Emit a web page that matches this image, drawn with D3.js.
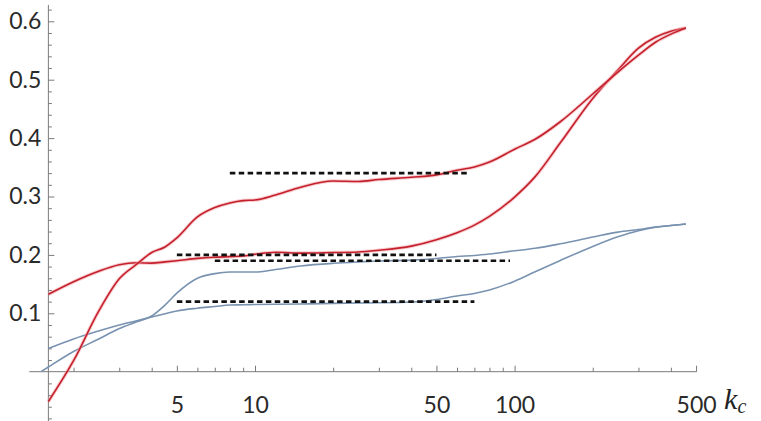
<!DOCTYPE html>
<html>
<head>
<meta charset="utf-8">
<script src="https://cdn.jsdelivr.net/npm/d3@7"></script>
<style>
  html, body { margin: 0; padding: 0; background: #fff; }
  svg { display: block; }
</style>
</head>
<body>
<svg id="chart" width="761" height="421"></svg>
<script>
// Cut-off momentum k_c (log axis) and the four response curves
const kGrid = [1.5, 1.6, 2, 2.5, 3, 3.5, 4, 4.5, 5, 6, 7, 8, 9, 10, 12, 15, 20, 25, 30, 40, 50, 60, 70, 80, 100, 120, 150, 200, 250, 300, 350, 400, 457];

const redLowPlateau = [null, 0.1325, 0.154, 0.172, 0.183, 0.1865, 0.186, 0.188, 0.190, 0.194, 0.196, 0.197, 0.198, 0.201, 0.2046, 0.203, 0.204, 0.205, 0.208, 0.215, 0.226, 0.238, 0.251, 0.266, 0.299, 0.334, 0.392, 0.468, 0.5166, 0.554, 0.573, 0.583, 0.5885];
const redHighPlateau = [null, -0.051, 0.0188, 0.1036, 0.159, 0.184, 0.204, 0.2135, 0.229, 0.265, 0.281, 0.289, 0.293, 0.294, 0.3026, 0.316, 0.3265, 0.3257, 0.329, 0.333, 0.337, 0.345, 0.3505, 0.359, 0.381, 0.398, 0.428, 0.4755, 0.513, 0.542, 0.5645, 0.578, 0.5885];
const blueLowPlateau = [null, 0.0397, 0.056, 0.0697, 0.080, 0.0873, 0.0937, 0.0993, 0.104, 0.1087, 0.1116, 0.1142, 0.1146, 0.115, 0.1154, 0.116, 0.117, 0.1176, 0.118, 0.1193, 0.1236, 0.1296, 0.134, 0.14, 0.155, 0.171, 0.1905, 0.2145, 0.231, 0.2415, 0.2475, 0.2503, 0.2529];
const blueHighPlateau = [0.0, 0.008, 0.0346, 0.056, 0.0738, 0.0854, 0.0954, 0.114, 0.1344, 0.160, 0.168, 0.1707, 0.1707, 0.1707, 0.175, 0.181, 0.1856, 0.188, 0.1896, 0.191, 0.1938, 0.1973, 0.199, 0.2015, 0.207, 0.2113, 0.219, 0.2305, 0.239, 0.2435, 0.2478, 0.2503, 0.2529];

// Plateau reference levels (dashed): level, k from, k to
const plateauLevels = [0.34, 0.2, 0.19, 0.12];
const plateauFrom = [8, 5, 7, 5];
const plateauTo = [66, 50, 96, 70];

// Axis ticks
const xMajorTicks = [5, 10, 50, 100, 500];
const xMinorTicks = [2, 3, 4, 6, 7, 8, 9, 20, 30, 40, 60, 70, 80, 90, 200, 300, 400];
const yMajorTicks = [0.1, 0.2, 0.3, 0.4, 0.5, 0.6];
const yMinorTicks = d3.range(-8, 32).map(i => +(i * 0.02).toFixed(2)).filter(v => Math.abs(v * 10 - Math.round(v * 10)) > 1e-6);

const svg = d3.select("#chart");

const x = d3.scaleLog().domain([10, 100]).range([255, 514.6]);
const y = d3.scaleLinear().domain([0, 0.6]).range([371.7, 21.3]);

const xAxisFrom = 1.35, xAxisTo = 503;
const yAxisAt = 1.6;
const yAxisTop = 0.628, yAxisBottom = -0.09;

const axisColor = "#7a7a7a";
const labelFont = "Lato, 'Open Sans', sans-serif";

// x axis (at y = 0)
const gx = svg.append("g").attr("transform", `translate(0,${y(0)})`);
gx.append("line")
  .attr("x1", x(xAxisFrom)).attr("x2", x(xAxisTo))
  .attr("stroke", axisColor).attr("stroke-width", 1);
gx.append("g")
  .call(d3.axisBottom(x).tickValues(xMajorTicks).tickFormat(d3.format("d")).tickSize(-6).tickPadding(25))
  .call(g => g.select(".domain").remove())
  .call(g => g.selectAll("line").attr("stroke", axisColor))
  .call(g => g.selectAll("text").attr("fill", "#2a2a2a").style("font-family", labelFont).style("font-size", "23px"));
gx.append("g")
  .call(d3.axisBottom(x).tickValues(xMinorTicks).tickFormat("").tickSize(-4))
  .call(g => g.select(".domain").remove())
  .call(g => g.selectAll("line").attr("stroke", axisColor));

// y axis
const gy = svg.append("g").attr("transform", `translate(${x(yAxisAt)},0)`);
gy.append("line")
  .attr("y1", y(yAxisTop)).attr("y2", y(yAxisBottom))
  .attr("stroke", axisColor).attr("stroke-width", 1);
gy.append("g")
  .call(d3.axisLeft(y).tickValues(yMajorTicks).tickFormat(d3.format(".1f")).tickSize(-6).tickPadding(7))
  .call(g => g.select(".domain").remove())
  .call(g => g.selectAll("line").attr("stroke", axisColor))
  .call(g => g.selectAll("text").attr("fill", "#2a2a2a").style("font-family", labelFont).style("font-size", "23px"));
gy.append("g")
  .call(d3.axisLeft(y).tickValues(yMinorTicks).tickFormat("").tickSize(-3.5))
  .call(g => g.select(".domain").remove())
  .call(g => g.selectAll("line").attr("stroke", axisColor));

// axis title k_c
const title = svg.append("text")
  .attr("x", x(500) + 28).attr("y", y(0) + 37)
  .style("font-family", "'Liberation Serif', 'DejaVu Serif', serif")
  .style("font-style", "italic")
  .attr("fill", "#222");
title.append("tspan").style("font-size", "30px").text("k");
title.append("tspan").style("font-size", "20px").attr("dy", 4).text("c");

// curves
const line = d3.line()
  .defined(d => d[1] !== null)
  .x(d => x(d[0]))
  .y(d => y(d[1]))
  .curve(d3.curveMonotoneX);

const series = [
  { values: blueLowPlateau, color: "#7892b0", halo: null },
  { values: blueHighPlateau, color: "#7892b0", halo: null },
  { values: redLowPlateau, color: "#c4202c", halo: "#f3a3a8" },
  { values: redHighPlateau, color: "#c4202c", halo: "#f3a3a8" }
];

series.forEach(s => {
  const pts = kGrid.map((k, i) => [k, s.values[i]]);
  if (s.halo) {
    svg.append("path")
      .attr("d", line(pts))
      .attr("fill", "none")
      .attr("stroke", s.halo)
      .attr("stroke-width", 3.6)
      .attr("stroke-opacity", 0.55);
  }
  svg.append("path")
    .attr("d", line(pts))
    .attr("fill", "none")
    .attr("stroke", s.color)
    .attr("stroke-width", 1.6);
});

// dashed plateau levels
plateauLevels.forEach((lv, i) => {
  svg.append("line")
    .attr("x1", x(plateauFrom[i])).attr("x2", x(plateauTo[i]))
    .attr("y1", y(lv)).attr("y2", y(lv))
    .attr("stroke", "#111")
    .attr("stroke-width", 2.6)
    .attr("stroke-dasharray", "5.5,3.4");
});
</script>
</body>
</html>
